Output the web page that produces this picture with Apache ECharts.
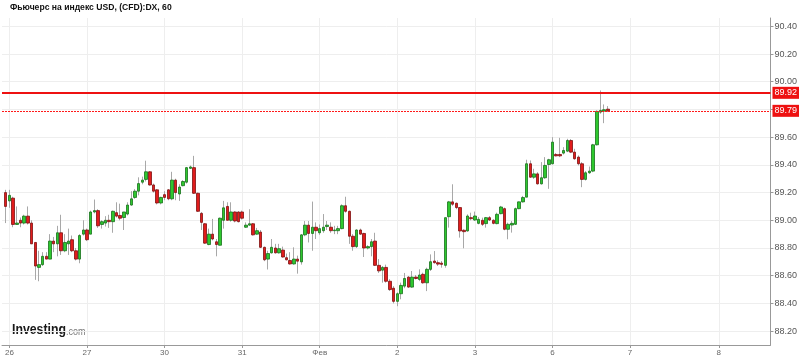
<!DOCTYPE html>
<html>
<head>
<meta charset="utf-8">
<script src="https://cdn.jsdelivr.net/npm/echarts@6/dist/echarts.min.js"></script>
<style>
html,body{margin:0;padding:0;background:#fff;}
#c{width:800px;height:360px;}
</style>
</head>
<body>
<div id="c"></div>
<script>
// ---- data (hourly candles, index 1..164; index 0 is an empty leading slot) ----
const slotCount = 209;
const dayLabels = ['26','27','30','31','Фев','2','3','6','7','8'];
const dayLabelIndex = [2,23,44,65,86,107,128,149,170,194];
const yTicks = [88.2,88.4,88.6,88.8,89.0,89.2,89.4,89.6,89.8,90.0,90.2,90.4];
const levelHigh = 89.92;
const levelLast = 89.79;

const open = [
89.20,89.14,89.16,88.97,89.00,88.98,89.03,88.98,88.84,88.66,
88.68,88.74,88.72,88.85,88.83,88.91,88.78,88.83,88.86,88.78,
88.72,88.90,88.93,88.90,89.06,89.07,88.97,88.98,89.00,88.99,
89.055,89.035,89.02,89.045,89.11,89.165,89.21,89.275,89.295,89.35,
89.255,89.22,89.125,89.185,89.22,89.155,89.29,89.19,89.25,89.275,
89.375,89.38,89.195,89.05,88.975,88.825,88.90,88.845,88.82,89.00,
89.10,89.00,89.06,89.06,89.06,88.95,88.965,88.975,88.90,88.915,
88.805,88.72,88.765,88.80,88.765,88.785,88.73,88.71,88.685,88.72,
88.70,88.895,88.965,88.905,88.95,88.91,88.925,88.955,88.95,88.925,
88.925,88.94,89.105,89.065,88.885,88.81,88.93,88.905,88.80,88.81,
88.85,88.675,88.64,88.66,88.56,88.51,88.415,88.47,88.525,88.59,
88.518,88.59,88.573,88.61,88.549,88.646,88.706,88.694,88.691,88.675,
89.026,89.133,89.123,89.092,88.928,88.923,89.019,89.002,88.978,89.00,
88.976,89.019,89.00,88.976,89.048,89.084,88.935,88.966,88.971,89.084,
89.133,89.167,89.408,89.311,89.335,89.263,89.307,89.403,89.408,89.475,
89.475,89.485,89.499,89.576,89.492,89.456,89.408,89.295,89.343,89.355,
89.545,89.781,89.788,89.802
];
const high = [
89.22,89.22,89.17,89.10,89.02,89.04,89.10,89.00,88.84,88.78,
88.77,88.77,88.90,88.88,88.96,89.04,88.90,88.94,88.89,88.80,
88.90,89.00,88.94,89.07,89.15,89.08,89.00,89.03,89.04,89.07,
89.13,89.12,89.06,89.13,89.21,89.225,89.31,89.315,89.43,89.355,
89.265,89.225,89.17,89.21,89.225,89.35,89.30,89.26,89.29,89.385,
89.395,89.465,89.20,89.06,88.98,88.94,89.01,88.865,89.02,89.14,
89.13,89.13,89.065,89.065,89.07,88.985,89.08,88.98,88.945,88.93,
88.81,88.78,88.865,88.83,88.83,88.81,88.76,88.77,88.805,88.745,
88.90,88.995,88.995,89.135,88.985,88.97,89.045,88.995,88.985,88.96,
88.96,89.115,89.17,89.07,88.90,88.935,88.94,88.91,88.82,88.865,
88.91,88.72,88.67,88.68,88.575,88.525,88.48,88.55,88.62,88.597,
88.634,88.605,88.646,88.622,88.658,88.754,88.778,88.711,88.706,89.019,
89.14,89.26,89.128,89.096,88.935,89.043,89.055,89.063,89.024,89.019,
89.024,89.031,89.007,89.055,89.104,89.092,88.983,88.995,89.092,89.135,
89.176,89.437,89.432,89.372,89.347,89.42,89.456,89.444,89.60,89.485,
89.595,89.528,89.588,89.586,89.516,89.468,89.42,89.355,89.388,89.552,
89.793,89.937,89.836,89.824
];
const low = [
88.98,89.09,88.95,88.97,88.95,88.97,88.97,88.83,88.57,88.56,
88.67,88.72,88.72,88.77,88.74,88.75,88.77,88.75,88.77,88.71,
88.69,88.89,88.85,88.90,89.05,88.945,88.94,88.955,88.945,88.91,
89.02,89.00,88.93,89.035,89.105,89.155,89.18,89.26,89.28,89.25,
89.20,89.115,89.115,89.145,89.145,89.145,89.145,89.14,89.245,89.265,
89.37,89.19,89.06,88.93,88.83,88.82,88.855,88.74,88.82,88.94,
89.00,88.99,88.985,88.985,89.005,88.945,88.96,88.89,88.895,88.80,
88.705,88.645,88.76,88.76,88.76,88.73,88.71,88.68,88.68,88.615,
88.68,88.885,88.84,88.78,88.865,88.895,88.91,88.93,88.91,88.90,
88.90,88.935,89.055,88.83,88.78,88.80,88.895,88.735,88.79,88.74,
88.67,88.62,88.55,88.55,88.49,88.40,88.38,88.43,88.51,88.513,
88.513,88.573,88.561,88.542,88.489,88.634,88.687,88.67,88.658,88.658,
88.947,89.104,89.08,88.875,88.798,88.918,89.00,88.995,88.971,88.959,
88.947,88.995,88.971,88.971,89.043,88.928,88.863,88.911,88.966,89.08,
89.128,89.167,89.307,89.299,89.258,89.258,89.299,89.227,89.403,89.461,
89.456,89.475,89.492,89.485,89.437,89.396,89.239,89.287,89.335,89.347,
89.54,89.769,89.701,89.781
];
const close = [
89.10,89.18,88.97,88.98,88.98,89.03,88.98,88.83,88.67,88.68,
88.74,88.72,88.85,88.83,88.91,88.78,88.84,88.85,88.78,88.72,
88.89,88.93,88.86,89.06,89.07,88.96,88.99,89.00,88.99,89.065,
89.03,89.015,89.06,89.11,89.155,89.21,89.265,89.29,89.35,89.255,
89.21,89.125,89.165,89.165,89.155,89.29,89.20,89.24,89.28,89.38,
89.385,89.195,89.065,88.985,88.835,88.90,88.865,88.825,89.015,89.09,
89.00,89.06,88.995,88.99,89.015,88.965,88.975,88.895,88.925,88.805,
88.715,88.76,88.805,88.765,88.795,88.735,88.715,88.685,88.72,88.705,
88.895,88.965,88.905,88.95,88.925,88.94,88.95,88.965,88.925,88.93,
88.94,89.105,89.065,88.885,88.81,88.93,88.90,88.80,88.81,88.845,
88.675,88.635,88.66,88.56,88.50,88.415,88.47,88.53,88.58,88.518,
88.59,88.58,88.605,88.549,88.646,88.701,88.694,88.684,88.682,89.019,
89.133,89.116,89.092,88.923,88.918,89.031,89.012,89.031,89.007,88.971,
89.019,89.002,88.978,89.043,89.096,88.935,88.971,88.978,89.084,89.133,
89.164,89.408,89.311,89.335,89.263,89.307,89.396,89.437,89.564,89.465,
89.465,89.504,89.576,89.492,89.444,89.408,89.295,89.343,89.355,89.545,
89.786,89.793,89.798,89.79
];

// ---- build ----
const categories = [];
for (let i = 0; i < slotCount; i++) categories.push(String(i));
const labelAt = {};
dayLabelIndex.forEach((idx, j) => { labelAt[idx] = dayLabels[j]; });
const isDay = (i) => labelAt[i] !== undefined;

const wickData = [];
const bodyData = [];
for (let k = 0; k < open.length; k++) {
  const idx = k + 1;
  const o = open[k], c = close[k];
  wickData.push([idx, o, c, low[k], high[k]]);
  bodyData.push([idx, o, c, Math.min(o, c), Math.max(o, c)]);
}

const chart = echarts.init(document.getElementById('c'), null, {renderer: 'canvas'});
const FONT = 'Liberation Sans, Arial, sans-serif';
const RED = '#ee1111';
const levelLabel = (v) => ({show: true, position: 'end', distance: 2, formatter: v.toFixed(2),
  color: '#fff', backgroundColor: RED, padding: [2, 2, 1, 2], fontSize: 9, fontFamily: FONT});
chart.setOption({
  animation: false,
  backgroundColor: '#ffffff',
  title: {
    text: 'Фьючерс на индекс USD, (CFD):DX, 60',
    left: 10, top: 3, padding: 0,
    textStyle: {fontSize: 8.6, fontWeight: 'bold', color: '#111', fontFamily: FONT}
  },
  grid: {left: 2, right: 29, top: 18, bottom: 15, containLabel: false},
  xAxis: {
    type: 'category',
    data: categories,
    boundaryGap: false,
    axisLine: {show: true, lineStyle: {color: '#999', width: 1}},
    axisTick: {show: true, interval: (i) => isDay(i), length: 3, lineStyle: {color: '#999'}},
    axisLabel: {
      interval: (i) => isDay(i),
      formatter: (v, i) => labelAt[i] || '',
      color: '#666', fontSize: 8, margin: 4, fontFamily: FONT
    },
    splitLine: {show: true, interval: (i) => isDay(i), lineStyle: {color: '#eeeeee', width: 1}}
  },
  yAxis: {
    type: 'value',
    position: 'right',
    min: 88.1,
    max: 90.46,
    axisLine: {show: true, lineStyle: {color: '#999', width: 1}},
    axisTick: {show: true, customValues: yTicks, length: 3, lineStyle: {color: '#999'}},
    axisLabel: {
      customValues: yTicks,
      formatter: (v) => v.toFixed(2),
      color: '#555', fontSize: 9, margin: 4, fontFamily: FONT
    },
    splitLine: {show: true, lineStyle: {color: '#eeeeee', width: 1}}
  },
  series: [
    {
      name: 'wick',
      type: 'candlestick',
      data: wickData,
      encode: {x: 0, y: [1, 2, 3, 4]},
      barWidth: 1,
      silent: true,
      itemStyle: {color: '#a8a8a8', color0: '#a8a8a8', borderColor: '#a8a8a8', borderColor0: '#a8a8a8', borderWidth: 1},
      markLine: {
        silent: true,
        symbol: 'none',
        animation: false,
        lineStyle: {color: '#ff1a1a', width: 1, type: [2, 1], opacity: 1},
        label: levelLabel(levelLast),
        data: [{yAxis: levelLast}]
      }
    },
    {
      name: 'body',
      type: 'candlestick',
      data: bodyData,
      encode: {x: 0, y: [1, 2, 3, 4]},
      barWidth: 3,
      silent: true,
      itemStyle: {color: '#2ec82e', color0: '#e11c1c', borderColor: '#17701a', borderColor0: '#7d1010', borderWidth: 0.8},
      markLine: {
        silent: true,
        symbol: 'none',
        animation: false,
        lineStyle: {color: RED, width: 2, type: 'solid'},
        label: levelLabel(levelHigh),
        data: [{yAxis: levelHigh}]
      }
    }
  ],
  graphic: [
    {
      type: 'text', left: 12, top: 322, silent: true, scaleX: 0.82,
      style: {
        text: '{a|Investing}{b|.com}',
        rich: {
          a: {fontSize: 15, fontWeight: 'bold', fill: '#1a1a1a', fontFamily: FONT},
          b: {fontSize: 11, fill: '#777', fontFamily: FONT, padding: [4, 0, 0, 0]}
        }
      }
    }
  ]
});
</script>
</body>
</html>
